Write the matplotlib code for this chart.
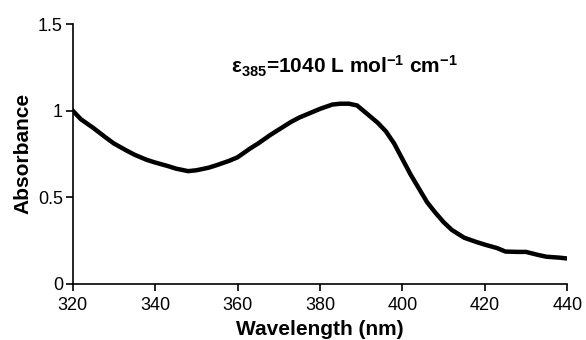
import matplotlib
matplotlib.use('Agg')
import matplotlib.pyplot as plt

plt.rcParams['font.family'] = ['Liberation Sans', 'DejaVu Sans']
plt.rcParams['mathtext.fontset'] = 'custom'
plt.rcParams['mathtext.bf'] = 'Liberation Sans:bold'
plt.rcParams['mathtext.rm'] = 'Liberation Sans:bold'
plt.rcParams['mathtext.default'] = 'bf'

# UV-vis spectrum
wavelength = [320, 322, 325, 328, 330, 333, 335, 338, 340, 343, 345, 348, 350,
              353, 355, 358, 360, 363, 365, 368, 370, 373, 375, 378, 380, 383,
              385, 387, 389, 390, 392, 394, 396, 398, 400, 402, 404, 406, 408,
              410, 412, 415, 418, 420, 423, 425, 428, 430, 433, 435, 438, 440]
absorbance = [1.0, 0.95, 0.90, 0.845, 0.81, 0.77, 0.745, 0.715, 0.70, 0.68,
              0.665, 0.65, 0.655, 0.67, 0.685, 0.71, 0.73, 0.78, 0.81, 0.86,
              0.89, 0.935, 0.96, 0.99, 1.01, 1.035, 1.04, 1.04, 1.03, 1.01,
              0.97, 0.93, 0.88, 0.81, 0.72, 0.63, 0.55, 0.47, 0.41, 0.355,
              0.31, 0.265, 0.24, 0.225, 0.205, 0.185, 0.183, 0.183, 0.165,
              0.155, 0.15, 0.145]

x_ticks = [320, 340, 360, 380, 400, 420, 440]
y_ticks = [0, 0.5, 1, 1.5]
y_labels = ['0', '0.5', '1', '1.5']

fig = plt.figure(figsize=(5.86, 3.4), dpi=100)
ax = fig.add_axes([0.124, 0.166, 0.844, 0.763])
ax.plot(wavelength, absorbance, color='black', linewidth=3.2)

ax.set_xlim(320, 440)
ax.set_ylim(0, 1.5)
ax.set_xticks(x_ticks)
ax.set_yticks(y_ticks)
ax.set_yticklabels(y_labels)
ax.spines['top'].set_visible(False)
ax.spines['right'].set_visible(False)
ax.spines['left'].set_linewidth(1.2)
ax.spines['bottom'].set_linewidth(1.2)
ax.tick_params(direction='out', length=5, width=1.2, labelsize=13)
ax.tick_params(axis='x', pad=5)
ax.tick_params(axis='y', pad=2)

ax.set_xlabel('Wavelength (nm)', fontsize=15, fontweight='bold', labelpad=4)
ax.set_ylabel('Absorbance', fontsize=15, fontweight='bold', labelpad=4)

ax.text(358.5, 1.255, 'ε$_{385}$=1040 L mol$^{-1}$ cm$^{-1}$',
        fontsize=15, fontweight='bold', va='center', ha='left')

fig.savefig('out.png', dpi=100)
